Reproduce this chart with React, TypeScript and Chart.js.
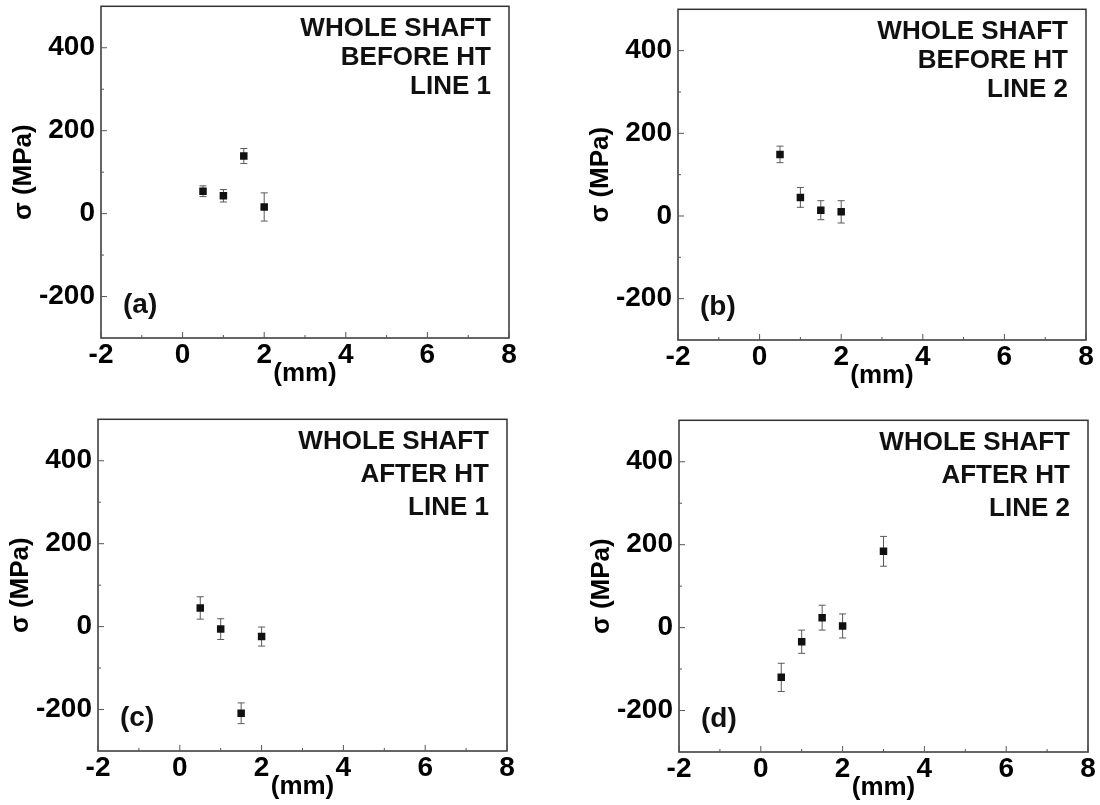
import React, { useEffect, useRef } from 'react';
import { Chart, registerables } from 'chart.js';

Chart.register(...registerables);

const FONT = '"Liberation Sans", Arial, Helvetica, sans-serif';

// axis ticks
const X_MIN = -2;
const X_MAX = 8;
const Y_MIN = -300;
const Y_MAX = 500;
const xMajorTicks = [-2, 0, 2, 4, 6, 8];
const xMinorTicks = [-1, 1, 3, 5, 7];
const yMajorTicks = [-200, 0, 200, 400];
const yMinorTicks = [-100, 100, 300];

// (a) whole shaft before HT, line 1
const depthA = [0.5, 1.0, 1.5, 2.0];
const stressA = [54, 43, 139, 16];
const errA = [13, 15, 18, 34];
const textA = ['WHOLE SHAFT', 'BEFORE HT', 'LINE 1'];

// (b) whole shaft before HT, line 2
const depthB = [0.5, 1.0, 1.5, 2.0];
const stressB = [149, 45, 14, 10];
const errB = [20, 24, 23, 27];
const textB = ['WHOLE SHAFT', 'BEFORE HT', 'LINE 2'];

// (c) whole shaft after HT, line 1
const depthC = [0.5, 1.0, 1.5, 2.0];
const stressC = [45, -6, -209, -24];
const errC = [27, 25, 25, 23];
const textC = ['WHOLE SHAFT', 'AFTER HT', 'LINE 1'];

// (d) whole shaft after HT, line 2
const depthD = [0.5, 1.0, 1.5, 2.0, 3.0];
const stressD = [-120, -34, 24, 4, 184];
const errD = [34, 28, 30, 29, 36];
const textD = ['WHOLE SHAFT', 'AFTER HT', 'LINE 2'];

type Panel = {
  tag: string;
  xs: number[];
  ys: number[];
  errs: number[];
  lines: string[];
  // plot-area box on the page
  L: number; R: number; T: number; B: number;
  lineGap: number;
};

const panels: Panel[] = [
  { tag: '(a)', xs: depthA, ys: stressA, errs: errA, lines: textA, L: 101, R: 509, T: 5, B: 338, lineGap: 29 },
  { tag: '(b)', xs: depthB, ys: stressB, errs: errB, lines: textB, L: 678, R: 1086, T: 8, B: 340, lineGap: 29 },
  { tag: '(c)', xs: depthC, ys: stressC, errs: errC, lines: textC, L: 98, R: 507, T: 418, B: 751, lineGap: 33 },
  { tag: '(d)', xs: depthD, ys: stressD, errs: errD, lines: textD, L: 679, R: 1088, T: 419, B: 752, lineGap: 33 },
];

const Y_AXIS_W = 100;
const X_AXIS_H = 52;
const PAD_T = 4;
const PAD_R = 14;

function makePlugin(p: Panel) {
  return {
    id: 'panelDecor',
    beforeDatasetsDraw(chart: any) {
      const { ctx, scales } = chart;
      const x = scales.x;
      const y = scales.y;
      ctx.save();
      ctx.strokeStyle = '#5a5a5a';
      ctx.lineWidth = 1;
      p.xs.forEach((xv, i) => {
        const px = x.getPixelForValue(xv);
        const y1 = y.getPixelForValue(p.ys[i] + p.errs[i]);
        const y2 = y.getPixelForValue(p.ys[i] - p.errs[i]);
        ctx.beginPath();
        ctx.moveTo(px, y1);
        ctx.lineTo(px, y2);
        ctx.moveTo(px - 3.5, y1);
        ctx.lineTo(px + 3.5, y1);
        ctx.moveTo(px - 3.5, y2);
        ctx.lineTo(px + 3.5, y2);
        ctx.stroke();
      });
      ctx.restore();
    },
    afterDraw(chart: any) {
      const { ctx, chartArea: ca, scales } = chart;
      const x = scales.x;
      const y = scales.y;
      ctx.save();
      // frame
      ctx.strokeStyle = '#333';
      ctx.lineWidth = 1.5;
      ctx.strokeRect(ca.left, ca.top, ca.right - ca.left, ca.bottom - ca.top);
      // inward ticks
      ctx.strokeStyle = '#555';
      ctx.lineWidth = 1;
      ctx.beginPath();
      yMajorTicks.forEach((v) => {
        const py = y.getPixelForValue(v);
        ctx.moveTo(ca.left, py);
        ctx.lineTo(ca.left + 6, py);
      });
      yMinorTicks.forEach((v) => {
        const py = y.getPixelForValue(v);
        ctx.moveTo(ca.left, py);
        ctx.lineTo(ca.left + 3, py);
      });
      xMajorTicks.forEach((v) => {
        const px = x.getPixelForValue(v);
        ctx.moveTo(px, ca.bottom);
        ctx.lineTo(px, ca.bottom - 6);
      });
      xMinorTicks.forEach((v) => {
        const px = x.getPixelForValue(v);
        ctx.moveTo(px, ca.bottom);
        ctx.lineTo(px, ca.bottom - 3);
      });
      ctx.stroke();
      // annotation text
      ctx.fillStyle = '#111';
      ctx.font = `bold 26px ${FONT}`;
      ctx.textAlign = 'right';
      ctx.textBaseline = 'middle';
      p.lines.forEach((s, i) => {
        ctx.fillText(s, ca.right - 18, ca.top + 23 + i * p.lineGap);
      });
      // panel tag
      ctx.font = `bold 28px ${FONT}`;
      ctx.textAlign = 'left';
      ctx.fillText(p.tag, ca.left + 22, ca.bottom - 33);
      ctx.restore();
    },
  };
}

function PanelChart({ p }: { p: Panel }) {
  const ref = useRef<HTMLCanvasElement | null>(null);
  const w = p.R - p.L + Y_AXIS_W + PAD_R;
  const h = p.B - p.T + PAD_T + X_AXIS_H;
  useEffect(() => {
    if (!ref.current) return;
    const chart = new Chart(ref.current, {
      type: 'scatter',
      data: {
        datasets: [
          {
            data: p.xs.map((xv, i) => ({ x: xv, y: p.ys[i] })),
            pointStyle: 'rect',
            pointRadius: 5.3,
            backgroundColor: '#111',
            borderColor: '#111',
            borderWidth: 0,
            showLine: false,
          },
        ],
      },
      options: {
        animation: false,
        responsive: false,
        devicePixelRatio: 1,
        events: [],
        layout: { padding: { top: PAD_T, right: PAD_R, left: 0, bottom: 0 } },
        plugins: { legend: { display: false }, tooltip: { enabled: false } },
        scales: {
          x: {
            type: 'linear',
            position: 'bottom',
            min: X_MIN,
            max: X_MAX,
            grid: { display: false, drawTicks: false },
            border: { display: false },
            ticks: {
              stepSize: 1,
              autoSkip: false,
              maxRotation: 0,
              padding: 0,
              color: '#000',
              font: { family: FONT, size: 28, weight: 'bold' },
              callback: (v: any) => (xMajorTicks.includes(Number(v)) ? String(v) : ''),
            },
            title: {
              display: true,
              text: '(mm)',
              color: '#000',
              font: { family: FONT, size: 26, weight: 'bold' },
              padding: { top: 0, bottom: 1 },
            },
            afterFit: (s: any) => {
              s.height = X_AXIS_H;
              s.paddingLeft = 0;
              s.paddingRight = 0;
            },
          },
          y: {
            type: 'linear',
            position: 'left',
            min: Y_MIN,
            max: Y_MAX,
            grid: { display: false, drawTicks: false },
            border: { display: false },
            ticks: {
              stepSize: 100,
              autoSkip: false,
              padding: 6,
              color: '#000',
              font: { family: FONT, size: 28, weight: 'bold' },
              callback: (v: any) => (yMajorTicks.includes(Number(v)) ? String(v) : ''),
            },
            title: {
              display: true,
              text: 'σ (MPa)',
              color: '#000',
              font: { family: FONT, size: 26, weight: 'bold' },
              padding: { top: 7, bottom: 0 },
            },
            afterFit: (s: any) => {
              s.width = Y_AXIS_W;
              s.paddingTop = 0;
              s.paddingBottom = 0;
            },
          },
        },
      },
      plugins: [makePlugin(p)],
    } as any);
    return () => chart.destroy();
  }, [p]);
  return (
    <canvas
      ref={ref}
      width={w}
      height={h}
      style={{
        position: 'absolute',
        left: p.L - Y_AXIS_W,
        top: p.T - PAD_T,
        width: w,
        height: h,
      }}
    />
  );
}

export default function App() {
  return (
    <div
      style={{
        position: 'fixed',
        left: 0,
        top: 0,
        width: 1100,
        height: 805,
        background: '#fff',
        overflow: 'hidden',
      }}
    >
      {panels.map((p) => (
        <PanelChart key={p.tag} p={p} />
      ))}
    </div>
  );
}
